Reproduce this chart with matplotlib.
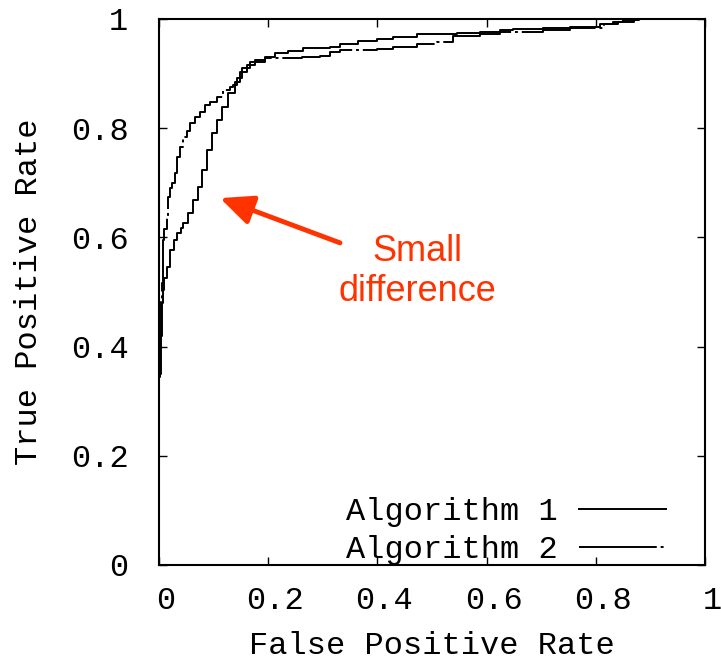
import matplotlib
matplotlib.use("Agg")
import matplotlib.pyplot as plt
import matplotlib.transforms as mtransforms

# ROC points (false positive rate, true positive rate)
fpr_alg1 = [0.000, 0.003, 0.005, 0.007, 0.010, 0.015, 0.020, 0.027, 0.033, 0.040,
            0.044, 0.053, 0.062, 0.071, 0.079, 0.088, 0.097, 0.106, 0.115, 0.126,
            0.139, 0.148, 0.161, 0.175, 0.194, 0.212, 0.236, 0.264, 0.313, 0.332,
            0.365, 0.399, 0.429, 0.473, 0.546, 0.588, 0.625, 0.648, 0.703, 0.753,
            0.795, 0.808, 0.832, 0.850, 0.880, 1.000]
tpr_alg1 = [0.350, 0.420, 0.480, 0.504, 0.525, 0.546, 0.577, 0.595, 0.608, 0.618,
            0.626, 0.645, 0.668, 0.692, 0.723, 0.760, 0.791, 0.815, 0.839, 0.864,
            0.885, 0.903, 0.916, 0.924, 0.930, 0.938, 0.941, 0.947, 0.949, 0.954,
            0.960, 0.963, 0.967, 0.973, 0.974, 0.976, 0.980, 0.982, 0.983, 0.985,
            0.986, 0.990, 0.995, 0.998, 1.000, 1.000]

fpr_alg2 = [0.000, 0.002, 0.004, 0.005, 0.007, 0.010, 0.015, 0.016, 0.020, 0.024,
            0.029, 0.033, 0.038, 0.044, 0.051, 0.057, 0.066, 0.075, 0.084, 0.093,
            0.106, 0.117, 0.130, 0.136, 0.143, 0.152, 0.167, 0.194, 0.225, 0.262,
            0.295, 0.313, 0.332, 0.399, 0.429, 0.473, 0.509, 0.538, 0.588, 0.625,
            0.660, 0.703, 0.753, 0.795, 0.815, 0.840, 0.870, 1.000]
tpr_alg2 = [0.345, 0.420, 0.485, 0.516, 0.595, 0.615, 0.637, 0.674, 0.690, 0.700,
            0.718, 0.747, 0.766, 0.784, 0.795, 0.809, 0.821, 0.830, 0.842, 0.848,
            0.857, 0.870, 0.876, 0.879, 0.892, 0.910, 0.921, 0.929, 0.929, 0.930,
            0.932, 0.940, 0.943, 0.945, 0.949, 0.954, 0.958, 0.969, 0.973, 0.976,
            0.976, 0.980, 0.983, 0.984, 0.990, 0.995, 1.000, 1.000]

ticks = [0, 0.2, 0.4, 0.6, 0.8, 1]
tick_labels = ["0", "0.2", "0.4", "0.6", "0.8", "1"]

mono = "Liberation Mono"
red = "#ff3300"

fig = plt.figure(figsize=(7.21, 6.61), dpi=100)
ax = fig.add_axes([159 / 721, 1 - 565 / 661, 546 / 721, 546 / 661])

ax.plot(fpr_alg1, tpr_alg1, drawstyle="steps-post", color="black", lw=1.4,
        label="Algorithm 1")
ax.plot(fpr_alg2, tpr_alg2, drawstyle="steps-post", color="black", lw=1.4,
        linestyle=(0, (40, 2, 1.5, 2)), label="Algorithm 2")

ax.set_xlim(0, 1)
ax.set_ylim(0, 1)
ax.set_xticks(ticks)
ax.set_xticklabels(tick_labels, family=mono, fontsize=23)
ax.set_yticks(ticks)
ax.set_yticklabels(tick_labels, family=mono, fontsize=23)
ax.tick_params(direction="in", length=6, width=1, top=True, right=True)
ax.tick_params(axis="x", pad=15)
ax.tick_params(axis="y", pad=22)
# gnuplot-ish offset of x tick labels to the right
offset = mtransforms.ScaledTranslation(0.07, 0, fig.dpi_scale_trans)
for lab in ax.get_xticklabels():
    lab.set_transform(lab.get_transform() + offset)
for sp in ax.spines.values():
    sp.set_linewidth(1.5)

ax.set_xlabel("False Positive Rate", family=mono, fontsize=23, labelpad=11)
ax.set_ylabel("True Positive Rate", family=mono, fontsize=23, labelpad=19)

ax.legend(loc="lower right", bbox_to_anchor=(0.9286, 0.0), borderpad=0,
          borderaxespad=0, frameon=False, markerfirst=False, handlelength=2.72,
          handletextpad=0.66, labelspacing=0.26, prop={"family": mono, "size": 23})

ax.annotate("", xy=(0.1117, 0.672), xytext=(0.3315, 0.590),
            arrowprops=dict(arrowstyle="-|>,head_length=1.0,head_width=0.45",
                            color=red, lw=3.5, mutation_scale=20,
                            shrinkA=0, shrinkB=0))
ax.text(0.4725, 0.537, "Small\ndifference", color=red, fontsize=26,
        family="Liberation Sans", ha="center", va="center", linespacing=1.2)

fig.savefig("out.png", dpi=100)
